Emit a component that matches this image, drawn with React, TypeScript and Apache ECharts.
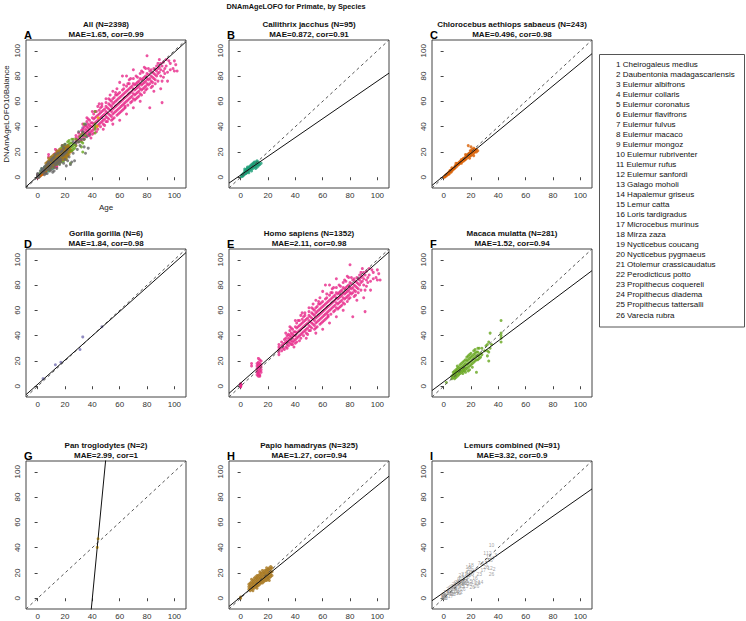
import React, { useEffect, useRef } from "react";
import * as echarts from "echarts";

const FONT = "'Liberation Sans', Arial, Helvetica, sans-serif";

// ---------- text ----------
const mainTitle = "DNAmAgeLOFO for Primate, by Species";
const panelTitles = [
  "All (N=2398)",
  "Callithrix jacchus (N=95)",
  "Chlorocebus aethiops sabaeus (N=243)",
  "Gorilla gorilla (N=6)",
  "Homo sapiens (N=1352)",
  "Macaca mulatta (N=281)",
  "Pan troglodytes (N=2)",
  "Papio hamadryas (N=325)",
  "Lemurs combined (N=91)",
];
const panelStats = [
  "MAE=1.65, cor=0.99",
  "MAE=0.872, cor=0.91",
  "MAE=0.496, cor=0.98",
  "MAE=1.84, cor=0.98",
  "MAE=2.11, cor=0.98",
  "MAE=1.52, cor=0.94",
  "MAE=2.99, cor=1",
  "MAE=1.27, cor=0.94",
  "MAE=3.32, cor=0.9",
];
const panelLetters = ["A", "B", "C", "D", "E", "F", "G", "H", "I"];
const yAxisName = "DNAmAgeLOFO10Balance";
const xAxisName = "Age";
const lemurSpecies = [
  "Cheirogaleus medius",
  "Daubentonia madagascariensis",
  "Eulemur albifrons",
  "Eulemur collaris",
  "Eulemur coronatus",
  "Eulemur flavifrons",
  "Eulemur fulvus",
  "Eulemur macaco",
  "Eulemur mongoz",
  "Eulemur rubriventer",
  "Eulemur rufus",
  "Eulemur sanfordi",
  "Galago moholi",
  "Hapalemur griseus",
  "Lemur catta",
  "Loris tardigradus",
  "Microcebus murinus",
  "Mirza zaza",
  "Nycticebus coucang",
  "Nycticebus pygmaeus",
  "Otolemur crassicaudatus",
  "Perodicticus potto",
  "Propithecus coquereli",
  "Propithecus diadema",
  "Propithecus tattersalli",
  "Varecia rubra",
];

// ---------- axes ----------
const axisTicks = [0, 20, 40, 60, 80, 100];
const axisMin = -8.5;
const axisMax = 108.5;

// ---------- regression lines (intercept, slope) per panel ----------
const fitIntercepts = [0.8, 1.7, 1.1, 1.5, 2.5, 3.5, -448, 1.0, 4.5];
const fitSlopes = [0.98, 0.743, 0.89, 0.96, 0.955, 0.81, 11.2, 0.88, 0.755];

// ---------- data: [age, prediction] ----------
const callithrix = [
  [0.5, 0.5], [1, 1], [1, 2], [1.5, 0.8], [2, 1.5], [2, 3], [2.5, 2], [3, 2.5], [3, 4], [3, 5],
  [3.5, 3], [4, 3], [4, 5], [4, 6], [4.5, 4], [5, 4], [5, 6], [5, 7], [5.5, 5], [6, 5],
  [6, 7], [6, 8], [7, 6], [7, 8], [7, 9], [8, 7], [8, 9], [8, 10], [9, 7], [9, 10],
  [9, 11], [10, 8], [10, 9], [10, 11], [10, 12], [11, 9], [11, 10], [11, 12], [12, 8], [12, 10],
  [12, 11], [12, 13], [13, 9], [13, 11], [13, 12], [14, 10], [15, 11], [3, 6.5], [5, 8], [6, 3.5],
  [8, 5], [11, 7], [12, 12], [13, 10], [9, 9], [7, 7], [10, 10],
];

const chlorocebus = [
  [0.5, 0], [1, 1], [1, 0.5], [1.5, 1.5], [2, 2], [2, 1], [2.5, 2.5], [3, 3], [3, 2], [3.5, 3.5],
  [4, 4], [4, 3], [4.5, 5], [5, 4.5], [5, 5.5], [5.5, 4], [6, 5], [6, 6], [6.5, 6.5], [7, 6],
  [7, 7], [7.5, 7], [8, 7], [8, 8], [8.5, 9], [9, 8], [9, 9.5], [10, 9], [10, 10], [10, 11],
  [11, 10], [11, 11], [11.5, 12], [12, 11], [12, 12], [12.5, 13], [13, 12], [13, 14], [14, 12.5], [14, 14],
  [14.5, 15], [15, 13], [15, 15], [15.5, 14], [16, 14], [16, 16], [16.5, 17], [17, 15], [17, 17], [17.5, 18],
  [18, 16], [18, 18], [18.5, 19], [19, 17], [19, 19], [19.5, 21], [20, 17], [20, 19], [20, 21], [21, 18],
  [21, 20], [21, 22], [22, 19], [22, 21], [22, 23], [23, 20], [23, 22], [24, 20], [24, 22], [18, 25],
  [20, 24], [25, 21], [22, 17], [9, 11], [13, 11], [16, 18], [19, 15], [6, 7.5], [4, 2.5],
];

const gorilla = [
  [4, 6], [13, 17], [17, 19], [31, 29], [33, 39], [47, 47],
];

const homo = [
  [0, 0], [0, 1], [0, 2], [0.3, 0.5], [0.2, 1.5], [0, -0.5],
  [12, 9], [12, 12], [12, 14], [12, 16], [13, 10], [13, 13], [13, 15], [13, 17], [13, 19], [13, 11],
  [14, 12], [14, 14], [14, 16], [14, 18], [14, 21], [14, 9], [15, 13], [15, 15], [15, 17], [15, 20],
  [12, 18], [13, 22], [8, 16], [8, 18], [14, 8], [15, 11], [12, 11], [13, 8],
  [28, 25], [28, 27], [28, 29], [28, 31], [28, 33], [29, 30], [30, 28], [30, 32], [30, 35], [31, 30],
  [31, 33], [32, 29], [32, 34], [32, 37],
  [33, 31], [33, 35], [33, 38], [34, 33], [34, 36], [34, 40], [35, 32], [35, 35], [35, 38], [35, 41],
  [36, 34], [36, 37], [36, 40], [36, 44], [37, 33], [37, 36], [37, 39], [37, 42], [38, 35], [38, 38],
  [38, 41], [38, 45], [39, 36], [39, 40], [39, 43], [40, 37], [40, 40], [40, 43], [40, 47], [40, 34],
  [41, 38], [41, 42], [41, 46], [41, 50], [42, 39], [42, 43], [42, 47], [43, 40], [43, 44], [43, 48],
  [43, 52], [44, 41], [44, 45], [44, 49], [44, 38], [45, 42], [45, 46], [45, 50], [45, 53], [46, 43],
  [46, 47], [46, 51], [46, 40], [47, 44], [47, 48], [47, 52], [47, 56], [48, 45], [48, 49], [48, 53],
  [48, 42], [49, 46], [49, 50], [49, 54], [50, 44], [50, 48], [50, 52], [50, 56], [50, 59],
  [51, 47], [51, 51], [51, 55], [52, 46], [52, 50], [52, 54], [52, 58], [53, 49], [53, 53], [53, 57],
  [53, 61], [54, 48], [54, 52], [54, 56], [54, 60], [55, 50], [55, 54], [55, 58], [55, 62], [55, 46],
  [56, 51], [56, 55], [56, 59], [56, 63], [57, 52], [57, 56], [57, 60], [57, 65], [58, 53], [58, 57],
  [58, 61], [58, 49], [59, 54], [59, 58], [59, 62], [59, 66], [60, 55], [60, 59], [60, 63], [60, 67],
  [60, 51],
  [61, 56], [61, 60], [61, 64], [62, 57], [62, 61], [62, 65], [62, 69], [62, 53], [63, 58], [63, 62],
  [63, 66], [63, 70], [64, 59], [64, 63], [64, 67], [64, 55], [65, 60], [65, 64], [65, 68], [65, 72],
  [66, 61], [66, 65], [66, 69], [66, 57], [67, 62], [67, 66], [67, 70], [67, 74], [68, 63], [68, 67],
  [68, 71], [68, 59], [69, 64], [69, 68], [69, 72], [70, 62], [70, 66], [70, 70], [70, 74], [70, 78],
  [71, 65], [71, 69], [71, 73], [72, 66], [72, 70], [72, 74], [72, 62], [73, 67], [73, 71], [73, 75],
  [73, 79], [74, 68], [74, 72], [74, 76], [75, 66], [75, 70], [75, 74], [75, 78], [75, 82], [76, 69],
  [76, 73], [76, 77], [77, 70], [77, 74], [77, 78], [77, 83], [78, 71], [78, 75], [78, 79], [78, 67],
  [79, 72], [79, 76], [79, 80], [80, 70], [80, 74], [80, 78], [80, 82], [80, 96],
  [81, 73], [81, 77], [81, 81], [82, 55], [82, 74], [82, 78], [82, 84], [83, 76], [83, 80], [83, 85],
  [84, 75], [84, 79], [84, 83], [85, 78], [85, 82], [85, 86], [86, 77], [86, 81], [86, 85], [87, 80],
  [87, 84], [87, 88], [88, 76], [88, 82], [88, 86], [89, 83], [89, 87], [90, 80], [90, 85], [90, 90],
  [91, 59], [91, 76], [91, 88], [92, 84], [92, 91], [93, 82], [94, 88], [95, 76], [96, 92], [97, 85],
  [100, 84], [100, 92], [101, 89],
  [45, 58], [50, 62], [40, 52], [55, 68], [60, 75], [62, 80], [65, 80], [70, 85], [44, 56], [36, 47],
  [60, 45], [70, 55], [75, 60], [85, 68], [90, 70], [65, 50], [55, 42], [48, 38],
  [58, 65], [63, 73], [67, 77], [72, 80], [76, 84], [79, 86], [52, 62], [57, 67], [47, 58], [42, 52],
  [64, 56], [69, 60], [74, 64], [79, 69], [84, 72], [59, 50], [54, 45], [49, 41], [38, 33], [34, 30],
  [33, 42], [37, 46], [39, 31], [41, 35], [43, 36], [46, 55], [51, 44], [53, 65], [56, 47], [58, 70],
  [61, 52], [63, 54], [66, 74], [68, 78], [71, 61], [73, 63], [76, 65], [78, 87], [81, 86], [83, 71],
  [86, 74], [88, 90], [92, 79], [94, 93], [97, 90], [99, 86], [102, 84], [89, 93], [93, 86], [95, 83],
];

const macaca = [
  [2, 3], [6, 6], [6, 8], [7, 7], [7, 9], [7, 11], [8, 6], [8, 8], [8, 10], [8, 12],
  [9, 7], [9, 9], [9, 11], [9, 13], [10, 8], [10, 10], [10, 12], [10, 14], [11, 9], [11, 11],
  [11, 13], [11, 15], [12, 10], [12, 12], [12, 14], [12, 17], [13, 11], [13, 13], [13, 15], [13, 18],
  [14, 12], [14, 14], [14, 16], [14, 19], [15, 12], [15, 14], [15, 17], [15, 20], [16, 13], [16, 15],
  [16, 18], [16, 21], [17, 14], [17, 17], [17, 20], [17, 23], [18, 15], [18, 18], [18, 21], [18, 24],
  [19, 16], [19, 19], [19, 22], [19, 25], [20, 17], [20, 20], [20, 23], [20, 26], [21, 18], [21, 21],
  [21, 24], [22, 19], [22, 22], [22, 25], [22, 28], [23, 20], [23, 23], [23, 26], [24, 11], [24, 21],
  [24, 24], [24, 27], [25, 21], [25, 24], [25, 27], [26, 22], [26, 25], [26, 30], [27, 23], [27, 26],
  [28, 25], [28, 30], [30, 28], [31, 32], [32, 24], [32, 28], [32, 33], [33, 20], [33, 27], [33, 35],
  [34, 30], [34, 42], [35, 33], [42, 35], [42, 38], [42, 42], [42, 52], [42, 40],
  [10, 16], [14, 10], [18, 12], [21, 15], [23, 29], [25, 30], [19, 13], [16, 11],
];

const pan = [
  [43.6, 40.2], [44.2, 47],
];

const papio = [
  [0, 0], [0, 1], [6, 7], [6, 9], [6, 11], [7, 6], [7, 8], [7, 10], [7, 12], [8, 7],
  [8, 9], [8, 11], [8, 13], [9, 8], [9, 10], [9, 12], [9, 14], [10, 8], [10, 10], [10, 12],
  [10, 14], [10, 16], [11, 9], [11, 11], [11, 13], [11, 15], [11, 17], [12, 10], [12, 12], [12, 14],
  [12, 16], [12, 18], [13, 10], [13, 12], [13, 14], [13, 16], [13, 18], [14, 11], [14, 13], [14, 15],
  [14, 17], [14, 19], [15, 12], [15, 14], [15, 16], [15, 18], [15, 20], [16, 12], [16, 14], [16, 16],
  [16, 18], [16, 20], [17, 13], [17, 15], [17, 17], [17, 19], [17, 21], [18, 14], [18, 16], [18, 18],
  [18, 20], [18, 22], [19, 14], [19, 16], [19, 18], [19, 20], [19, 22], [20, 15], [20, 17], [20, 19],
  [20, 21], [20, 23], [21, 16], [21, 18], [21, 20], [21, 22], [21, 24], [22, 17], [22, 19], [22, 21],
  [22, 23], [22, 25], [23, 18], [23, 21], [23, 24], [8, 15], [9, 6], [12, 8], [14, 21], [16, 22],
  [19, 24], [21, 14],
];

// lemurs: [age, prediction, species number]
const lemurs = [
  [0, 1, 17], [0, 2, 17], [0, 0.5, 2], [0, 3, 9], [0.5, 1.5, 5], [0.3, 2.5, 24], [0, 1, 15], [1, 0, 13],
  [0.5, 0, 25], [1, 2, 26], [5, 2, 17],
  [2, 5, 24], [3, 4, 2], [3, 7, 2], [4, 4, 21], [4, 6, 19], [5, 5, 20], [5, 8, 24], [6, 3, 13],
  [6, 9, 23], [7, 6, 17], [7, 10, 22], [7, 3, 20], [8, 7, 26], [8, 11, 25], [8, 12, 1], [9, 8, 6],
  [9, 5, 14], [9, 10, 17], [10, 9, 21], [10, 13, 26], [10, 14, 4], [10, 6, 11], [11, 11, 13], [11, 15, 9],
  [11, 4, 12], [12, 12, 23], [12, 8, 7], [12, 16, 8], [12, 5, 22], [13, 10, 15], [13, 13, 20], [13, 18, 21],
  [14, 14, 26], [14, 11, 5], [14, 7, 26], [15, 15, 24], [15, 12, 26], [15, 19, 21], [16, 10, 13], [16, 16, 15],
  [16, 13, 17], [17, 20, 5], [17, 14, 6], [17, 12, 13], [18, 17, 8], [18, 25, 16], [18, 21, 11], [19, 18, 1],
  [19, 23, 10], [19, 11, 26], [20, 19, 15], [20, 14, 5], [20, 26, 18], [21, 20, 17], [21, 9, 26], [22, 13, 19],
  [22, 22, 24], [23, 16, 16], [24, 10, 26], [25, 12, 26], [26, 28, 7], [26, 19, 23], [27, 13, 14], [28, 27, 6],
  [29, 22, 17], [30, 28, 14], [30, 36, 1], [31, 25, 26], [32, 30, 15], [33, 36, 12], [33, 33, 15], [34, 24, 12],
  [34, 30, 16], [35, 42, 10], [35, 19, 26], [36, 32, 4], [37, 23, 2], [38, 34, 3],
];

// ---------- styling / layout ----------
const speciesColors = ["#1B9E77", "#D95F02", "#7570B3", "#E7298A", "#66A61E", "#E6AB02", "#A6761D", "#666666"];
const colLefts = [26, 229, 432];
const rowTops = [40, 249, 461];
const panelW = 160;
const panelH = 148;

export default function App() {
  const ref = useRef<HTMLDivElement>(null);

  useEffect(() => {
    if (!ref.current) return;
    const chart = echarts.init(ref.current, null, { renderer: "svg" });

    const speciesData = [callithrix, chlorocebus, gorilla, homo, macaca, pan, papio, lemurs.map((d) => [d[0], d[1]])];

    const grids: any[] = [];
    const xAxes: any[] = [];
    const yAxes: any[] = [];
    const graphics: any[] = [];
    const series: any[] = [];

    for (let i = 0; i < 9; i++) {
      const row = Math.floor(i / 3);
      const col = i % 3;
      const left = colLefts[col];
      const top = rowTops[row];
      grids.push({
        left,
        top,
        width: panelW,
        height: panelH,
        show: true,
        borderColor: "#444",
        borderWidth: 1,
        backgroundColor: "transparent",
        containLabel: false,
      });
      const common = {
        type: "value",
        gridIndex: i,
        min: axisMin,
        max: axisMax,
        splitLine: { show: false },
        axisLine: { show: false },
        axisTick: { show: true, inside: false, length: 3, customValues: axisTicks, lineStyle: { color: "#444", width: 1 } },
      };
      xAxes.push({
        ...common,
        position: "bottom",
        axisLabel: { show: true, customValues: axisTicks, margin: 3, fontSize: 8, color: "#333", fontFamily: FONT },
      });
      yAxes.push({
        ...common,
        position: "left",
        axisLabel: { show: true, customValues: axisTicks, rotate: 90, margin: 5, fontSize: 8, color: "#333", fontFamily: FONT },
      });

      const cx = left + panelW / 2;
      graphics.push({
        type: "text",
        x: cx,
        y: top - 15.5,
        style: { text: panelTitles[i], fill: "#111", font: `bold 8px ${FONT}`, align: "center", verticalAlign: "middle", textAlign: "center", textVerticalAlign: "middle" },
      });
      graphics.push({
        type: "text",
        x: cx,
        y: top - 6,
        style: { text: panelStats[i], fill: "#111", font: `bold 8px ${FONT}`, align: "center", verticalAlign: "middle", textAlign: "center", textVerticalAlign: "middle" },
      });
      graphics.push({
        type: "text",
        x: left - 2,
        y: top - 5,
        style: { text: panelLetters[i], fill: "#000", font: `bold 11px ${FONT}`, align: "left", verticalAlign: "middle", textAlign: "left", textVerticalAlign: "middle" },
      });
    }

    // Panel A: all species
    speciesData.forEach((d, k) => {
      series.push({
        type: "scatter",
        xAxisIndex: 0,
        yAxisIndex: 0,
        data: d,
        symbol: "circle",
        symbolSize: 3,
        itemStyle: { color: speciesColors[k] },
        silent: true,
        z: 2,
      });
    });

    // Panels B-H: single species
    for (let i = 1; i < 8; i++) {
      series.push({
        type: "scatter",
        xAxisIndex: i,
        yAxisIndex: i,
        data: speciesData[i - 1],
        symbol: "circle",
        symbolSize: 3,
        itemStyle: { color: speciesColors[i - 1] },
        silent: true,
        z: 2,
      });
    }

    // Panel I: lemur species numbers as text
    series.push({
      type: "scatter",
      xAxisIndex: 8,
      yAxisIndex: 8,
      data: lemurs.map((d) => ({ value: [d[0], d[1]], name: String(d[2]) })),
      symbol: "circle",
      symbolSize: 1,
      itemStyle: { color: "rgba(255,255,255,0)" },
      silent: true,
      label: {
        show: true,
        position: "inside",
        formatter: "{b}",
        fontSize: 5,
        color: "#8a8a8a",
        textBorderWidth: 0,
        textBorderColor: "rgba(255,255,255,0)",
        fontFamily: FONT,
      },
      z: 2,
    });

    // Lines
    for (let i = 0; i < 9; i++) {
      series.push({
        type: "line",
        xAxisIndex: i,
        yAxisIndex: i,
        data: [
          [axisMin, axisMin],
          [axisMax, axisMax],
        ],
        symbol: "none",
        showSymbol: false,
        clip: true,
        silent: true,
        lineStyle: { color: "#555", width: 1, type: [3, 3] },
        z: 3,
      });
      const a = fitIntercepts[i];
      const b = fitSlopes[i];
      series.push({
        type: "line",
        xAxisIndex: i,
        yAxisIndex: i,
        data: [
          [axisMin, a + b * axisMin],
          [axisMax, a + b * axisMax],
        ],
        symbol: "none",
        showSymbol: false,
        clip: true,
        silent: true,
        lineStyle: { color: "#111", width: 1, type: "solid" },
        z: 4,
      });
    }

    // main title
    graphics.push({
      type: "text",
      x: 296,
      y: 6,
      style: { text: mainTitle, fill: "#111", font: `bold 7.3px ${FONT}`, align: "center", verticalAlign: "middle", textAlign: "center", textVerticalAlign: "middle" },
    });
    // axis names (panel A only)
    graphics.push({
      type: "text",
      x: 6,
      y: rowTops[0] + panelH / 2,
      rotation: Math.PI / 2,
      style: { text: yAxisName, fill: "#222", font: `8px ${FONT}`, align: "center", verticalAlign: "middle", textAlign: "center", textVerticalAlign: "middle" },
    });
    graphics.push({
      type: "text",
      x: colLefts[0] + panelW / 2,
      y: rowTops[0] + panelH + 19,
      style: { text: xAxisName, fill: "#222", font: `8px ${FONT}`, align: "center", verticalAlign: "middle", textAlign: "center", textVerticalAlign: "middle" },
    });
    // lemur species key
    graphics.push({
      type: "rect",
      shape: { x: 599.5, y: 54.5, width: 145, height: 272.5 },
      style: { fill: "none", stroke: "#555", lineWidth: 1 },
    });
    lemurSpecies.forEach((name, k) => {
      graphics.push({
        type: "text",
        x: 616,
        y: 64 + k * 10.04,
        style: { text: `${k + 1} ${name}`, fill: "#111", font: `8px ${FONT}`, align: "left", verticalAlign: "middle", textAlign: "left", textVerticalAlign: "middle" },
      });
    });

    chart.setOption({
      animation: false,
      backgroundColor: "#fff",
      grid: grids,
      xAxis: xAxes,
      yAxis: yAxes,
      series,
      graphic: { elements: graphics },
    });

    return () => chart.dispose();
  }, []);

  return (
    <div
      ref={ref}
      style={{ position: "fixed", left: 0, top: 0, width: 746, height: 621 }}
    />
  );
}
